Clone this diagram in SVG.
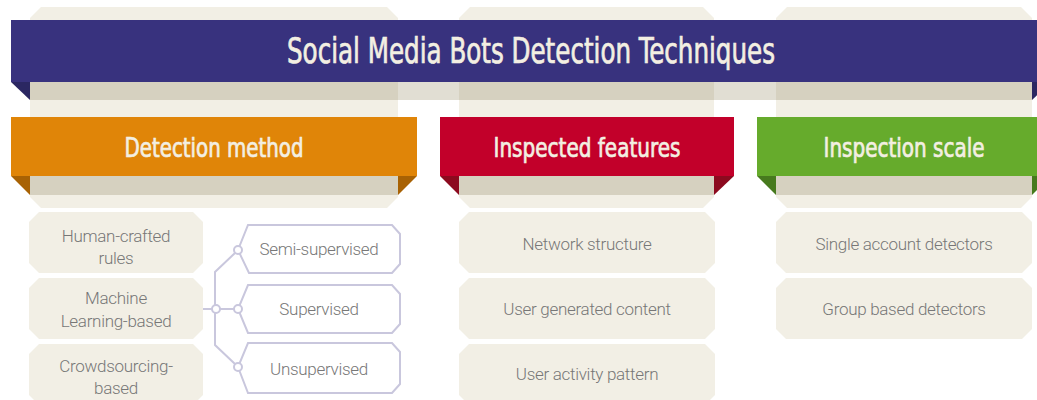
<svg xmlns="http://www.w3.org/2000/svg" width="1037" height="400" viewBox="0 0 1037 400">
  <style>
    .col { fill: #f2efe5; }
    .band { fill: #d6d1c0; }
    .band-gap { fill: #e1ded3; }
    .head { font-family: "DejaVu Sans Condensed", "Liberation Sans Narrow", "DejaVu Sans", sans-serif; fill: #f3efe2; stroke: #f3efe2; stroke-width: 0.7; text-anchor: middle; }
    .box { fill: #f2efe5; }
    .sub { fill: #ffffff; stroke: #c9c7dd; stroke-width: 2; }
    .lbl { font-family: Roboto, "Liberation Sans", sans-serif; font-weight: 300; font-size: 17px; letter-spacing: -0.3px; fill: #777777; text-anchor: middle; }
    .wire { fill: none; stroke: #c9c7dd; stroke-width: 2; }
    .dot { fill: #ffffff; stroke: #c9c7dd; stroke-width: 2; }
  </style>

  <!-- column backdrops -->
  <g id="backdrops">
    <path class="col" d="M41,7 H387 L398,18 V197 L387,208 H41 L30,197 V18 Z"/>
    <path class="col" d="M470,7 H703 L714,18 V197 L703,208 H470 L459,197 V18 Z"/>
    <path class="col" d="M787,7 H1021 L1032,18 V197 L1021,208 H787 L776,197 V18 Z"/>
  </g>

  <!-- title ribbon -->
  <g id="title">
    <rect class="band-gap" x="30" y="82" width="1002" height="18"/>
    <rect class="band" x="30" y="82" width="368" height="18"/>
    <rect class="band" x="459" y="82" width="255" height="18"/>
    <rect class="band" x="776" y="82" width="256" height="18"/>
    <polygon points="11,82 30,82 30,100" fill="#2b2762"/>
    <polygon points="1032,82 1051,82 1032,100" fill="#2b2762"/>
    <rect x="11" y="20" width="1040" height="62" fill="#38327e"/>
    <text class="head" x="531" y="63" font-size="35" textLength="488" lengthAdjust="spacingAndGlyphs">Social Media Bots Detection Techniques</text>
  </g>

  <!-- column headers -->
  <g id="header-method">
    <rect class="band" x="30" y="176" width="368" height="19"/>
    <polygon points="11,176 30,176 30,195" fill="#a86204"/>
    <polygon points="398,176 417,176 398,195" fill="#a86204"/>
    <rect x="11" y="117" width="406" height="59" fill="#e08508"/>
    <text class="head" x="214" y="157" font-size="27" textLength="179" lengthAdjust="spacingAndGlyphs">Detection method</text>
  </g>
  <g id="header-features">
    <rect class="band" x="459" y="176" width="255" height="19"/>
    <polygon points="440,176 459,176 459,195" fill="#8c0a1f"/>
    <polygon points="714,176 734,176 714,195" fill="#8c0a1f"/>
    <rect x="440" y="117" width="294" height="59" fill="#c2002a"/>
    <text class="head" x="587" y="157" font-size="27" textLength="187" lengthAdjust="spacingAndGlyphs">Inspected features</text>
  </g>
  <g id="header-scale">
    <rect class="band" x="776" y="176" width="256" height="19"/>
    <polygon points="757,176 776,176 776,195" fill="#477a1e"/>
    <polygon points="1032,176 1051,176 1032,195" fill="#477a1e"/>
    <rect x="757" y="117" width="294" height="59" fill="#66ab2c"/>
    <text class="head" x="904" y="157" font-size="27" textLength="161" lengthAdjust="spacingAndGlyphs">Inspection scale</text>
  </g>

  <!-- detection method items -->
  <g id="human-crafted">
    <path class="box" d="M39,212 H193 L203,222 V263 L193,273 H39 L29,263 V222 Z"/>
    <text class="lbl" x="116" y="242">Human-crafted</text>
    <text class="lbl" x="116" y="264">rules</text>
  </g>
  <g id="machine-learning">
    <path class="box" d="M39,278 H193 L203,288 V329 L193,339 H39 L29,329 V288 Z"/>
    <text class="lbl" x="116" y="304">Machine</text>
    <text class="lbl" x="116" y="327">Learning-based</text>
  </g>
  <g id="crowdsourcing">
    <path class="box" d="M39,344 H193 L203,354 V395 L193,405 H39 L29,395 V354 Z"/>
    <text class="lbl" x="116" y="372">Crowdsourcing-</text>
    <text class="lbl" x="116" y="394">based</text>
  </g>

  <!-- learning sub-types -->
  <g id="semi-supervised">
    <path class="sub" d="M248,225 H392 L400,234 V264 L392,273 H249 L238,250 Z"/>
    <text class="lbl" x="319" y="255">Semi-supervised</text>
  </g>
  <g id="supervised">
    <path class="sub" d="M248,285 H392 L400,294 V324 L392,333 H248 L238,309 Z"/>
    <text class="lbl" x="319" y="315">Supervised</text>
  </g>
  <g id="unsupervised">
    <path class="sub" d="M248,343 H392 L400,352 V384 L392,393 H248 L238,367 Z"/>
    <text class="lbl" x="319" y="375">Unsupervised</text>
  </g>

  <!-- inspected features items -->
  <g id="network-structure">
    <path class="box" d="M469,212 H705 L715,222 V263 L705,273 H469 L459,263 V222 Z"/>
    <text class="lbl" x="587" y="250">Network structure</text>
  </g>
  <g id="user-content">
    <path class="box" d="M469,278 H705 L715,288 V329 L705,339 H469 L459,329 V288 Z"/>
    <text class="lbl" x="587" y="315">User generated content</text>
  </g>
  <g id="user-activity">
    <path class="box" d="M469,344 H705 L715,354 V395 L705,405 H469 L459,395 V354 Z"/>
    <text class="lbl" x="587" y="380">User activity pattern</text>
  </g>

  <!-- inspection scale items -->
  <g id="single-account">
    <path class="box" d="M786,212 H1022 L1032,222 V263 L1022,273 H786 L776,263 V222 Z"/>
    <text class="lbl" x="904" y="250">Single account detectors</text>
  </g>
  <g id="group-based">
    <path class="box" d="M786,278 H1022 L1032,288 V329 L1022,339 H786 L776,329 V288 Z"/>
    <text class="lbl" x="904" y="315">Group based detectors</text>
  </g>

  <!-- connectors from the machine-learning item to its sub-types -->
  <g id="connectors">
    <path class="wire" d="M203,309 H234"/>
    <path class="wire" d="M215,305 V272 L235,253"/>
    <path class="wire" d="M215,313 V345 L235,364"/>
    <circle class="dot" cx="216" cy="309" r="4"/>
    <circle class="dot" cx="238" cy="250" r="4"/>
    <circle class="dot" cx="238" cy="309" r="4"/>
    <circle class="dot" cx="238" cy="367" r="4"/>
  </g>
</svg>
